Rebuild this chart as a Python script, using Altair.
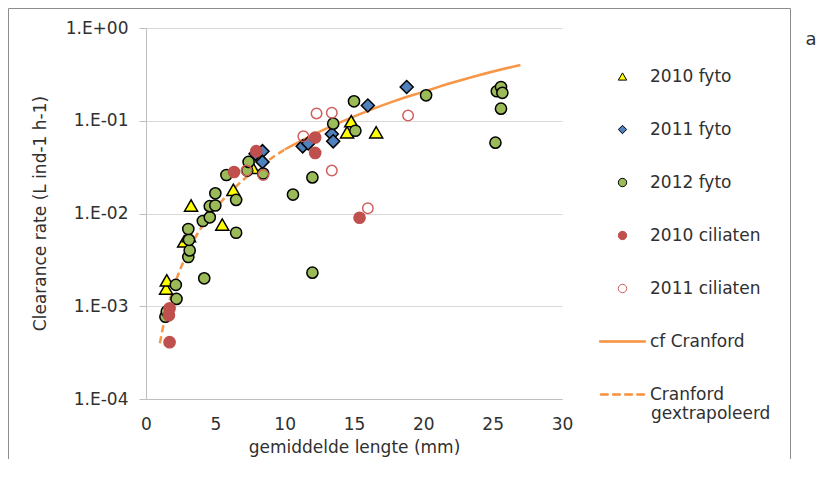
import altair as alt
import pandas as pd

series_names = ["2010 fyto", "2011 fyto", "2012 fyto", "2010 ciliaten",
                "2011 ciliaten", "cf Cranford", "Cranford gextrapoleerd"]

# gemiddelde lengte (mm) / clearance rate (L ind-1 h-1)
x_2010_fyto = [1.45, 1.5, 2.75, 3.1, 3.25, 5.5, 6.3, 7.7, 14.5, 14.8, 16.6]
y_2010_fyto = [0.00155, 0.0019, 0.0050, 0.0057, 0.0122, 0.0076, 0.018, 0.031, 0.075, 0.099, 0.075]

x_2011_fyto = [7.9, 8.4, 8.4, 11.3, 11.7, 13.4, 13.5, 16.0, 18.8]
y_2011_fyto = [0.044, 0.047, 0.036, 0.053, 0.057, 0.072, 0.060, 0.146, 0.231]

x_2012_fyto = [1.4, 1.5, 2.15, 2.2, 3.05, 3.15, 3.1, 3.05, 4.2, 4.1, 4.6, 4.6, 5.0, 5.0,
               5.8, 6.5, 6.5, 7.3, 7.4, 8.45, 10.6, 12.0, 12.0, 13.5, 15.0, 15.1, 20.2,
               25.2, 25.3, 25.6, 25.6, 25.7]
y_2012_fyto = [0.00077, 0.00088, 0.0017, 0.0012, 0.0034, 0.0040, 0.0052, 0.0068, 0.0020,
               0.0083, 0.0091, 0.0120, 0.0122, 0.0165, 0.026, 0.014, 0.0062, 0.029, 0.036,
               0.027, 0.016, 0.0245, 0.0023, 0.093, 0.162, 0.078, 0.188, 0.058, 0.208,
               0.135, 0.231, 0.20]

x_2010_cil = [1.65, 1.7, 1.7, 6.35, 7.95, 12.2, 12.2, 15.4]
y_2010_cil = [0.0008, 0.00095, 0.00041, 0.028, 0.047, 0.066, 0.045, 0.009]

x_2011_cil = [7.25, 8.45, 11.35, 12.3, 13.4, 13.4, 16.0, 18.9]
y_2011_cil = [0.029, 0.026, 0.068, 0.120, 0.122, 0.029, 0.0114, 0.114]

cran_x = [10, 12, 14, 16, 18, 20, 22, 24, 27]
cran_y = [0.049, 0.070, 0.096, 0.128, 0.165, 0.205, 0.255, 0.31, 0.40]

extra_x = [1.0, 1.4, 2, 3, 4, 5, 6, 7, 8, 9, 10]
extra_y = [0.0004, 0.00078, 0.0016, 0.0038, 0.0071, 0.0113, 0.0165, 0.023, 0.030, 0.039, 0.049]

x_ticks = [0, 5, 10, 15, 20, 25, 30]
y_ticks = [1e-4, 1e-3, 1e-2, 1e-1, 1]

rows = []
for name, xs, ys in [(series_names[0], x_2010_fyto, y_2010_fyto),
                     (series_names[1], x_2011_fyto, y_2011_fyto),
                     (series_names[2], x_2012_fyto, y_2012_fyto),
                     (series_names[3], x_2010_cil, y_2010_cil),
                     (series_names[4], x_2011_cil, y_2011_cil)]:
    rows += [{"series": name, "L": a, "CR": b} for a, b in zip(xs, ys)]
points = pd.DataFrame(rows)
solid = pd.DataFrame({"L": cran_x, "CR": cran_y})
dashed = pd.DataFrame({"L": extra_x, "CR": extra_y})

FONT = "DejaVu Sans"
TXT = "#303030"
ORANGE = "#f79646"

xscale = alt.Scale(domain=[0, 30], nice=False, zero=False)
yscale = alt.Scale(type="log", domain=[1e-4, 1], nice=False)

xaxis = alt.Axis(values=x_ticks, title="gemiddelde lengte (mm)", grid=False, tickSize=0,
                 labelPadding=17, titleY=40, titleBaseline="top", domainColor="#bfbfbf",
                 labelFlush=False, labelOverlap=False)
yaxis = alt.Axis(values=y_ticks, title="Clearance rate (L ind-1 h-1)",
                 labelExpr="datum.value >= 0.999 ? '1.E+00' : '1.E-0' + format(round(-log(datum.value)/LN10), 'd')",
                 tickSize=7, labelPadding=11, grid=True, gridColor="#d9d9d9",
                 domainColor="#bfbfbf", tickColor="#bfbfbf", labelFlush=False, labelOverlap=False,
                 titleX=-106, titleY=185, titleAngle=270, titleBaseline="middle", titleAlign="center")

line_path = "M-5.5,-0.18L5.5,-0.18L5.5,0.18L-5.5,0.18Z"
dash_path = ("M-5.3,-0.18L-3.4,-0.18L-3.4,0.18L-5.3,0.18Z"
             "M-2.4,-0.18L-0.5,-0.18L-0.5,0.18L-2.4,0.18Z"
             "M0.5,-0.18L2.4,-0.18L2.4,0.18L0.5,0.18Z"
             "M3.4,-0.18L5.3,-0.18L5.3,0.18L3.4,0.18Z")

shape_scale = alt.Scale(domain=series_names,
                        range=["triangle-up", "diamond", "circle", "circle", "circle", line_path, dash_path])
fill_scale = alt.Scale(domain=series_names,
                       range=["#ffff00", "#4f81bd", "#9bbb59", "#c0504d", "transparent", ORANGE, ORANGE])
stroke_scale = alt.Scale(domain=series_names,
                         range=["#000000", "#000000", "#000000", "#c0504d", "#d0605d", ORANGE, ORANGE])

legend = alt.Legend(title=None, orient="none", legendX=468, legendY=40, direction="vertical",
                    labelFont=FONT, labelFontSize=17, labelColor=TXT, symbolSize=70,
                    symbolStrokeWidth=1, rowPadding=35, labelOffset=19, padding=0, labelLimit=300,
                    labelExpr="datum.label == 'Cranford gextrapoleerd' ? 'Cranford' : datum.label")

base_x = alt.X("L:Q", scale=xscale, axis=xaxis)
base_y = alt.Y("CR:Q", scale=yscale, axis=yaxis)

line_solid = alt.Chart(solid).mark_line(color=ORANGE, strokeWidth=2.5, interpolate="monotone").encode(
    x=base_x, y=base_y)
line_dash = alt.Chart(dashed).mark_line(color=ORANGE, strokeWidth=2.5, strokeDash=[7, 4],
                                         interpolate="monotone").encode(x=base_x, y=base_y)

sizes = {"2010 fyto": 170, "2011 fyto": 170, "2012 fyto": 125, "2010 ciliaten": 125, "2011 ciliaten": 110}
point_layers = []
for name in series_names[:5]:
    point_layers.append(
        alt.Chart(points).transform_filter(alt.datum.series == name)
        .mark_point(filled=True, opacity=1, size=sizes[name], strokeWidth=1.5)
        .encode(x=base_x, y=base_y,
                shape=alt.Shape("series:N", scale=shape_scale, legend=legend),
                fill=alt.Fill("series:N", scale=fill_scale, legend=legend),
                stroke=alt.Stroke("series:N", scale=stroke_scale, legend=legend))
    )

one = pd.DataFrame({"t": ["a"]})
second_line = pd.DataFrame({"t": ["gextrapoleerd"]})
border_color = "#8c8c8c"
b_left = alt.Chart(one).mark_rule(color=border_color, strokeWidth=1).encode(
    x=alt.value(-137.5), y=alt.value(-19.5), y2=alt.value(431))
b_right = alt.Chart(one).mark_rule(color=border_color, strokeWidth=1).encode(
    x=alt.value(644.5), y=alt.value(-19.5), y2=alt.value(431))
b_top = alt.Chart(one).mark_rule(color=border_color, strokeWidth=1).encode(
    x=alt.value(-137.5), x2=alt.value(644.5), y=alt.value(-19.5))
label_a = alt.Chart(one).mark_text(font=FONT, fontSize=18, color=TXT, align="center",
                                   baseline="middle").encode(
    text="t:N", x=alt.value(665), y=alt.value(12))
legend_line2 = alt.Chart(second_line).mark_text(font=FONT, fontSize=17, color=TXT, align="left",
                                                baseline="middle").encode(
    text="t:N", x=alt.value(505), y=alt.value(386))

chart = alt.layer(line_dash, line_solid, *point_layers, b_left, b_right, b_top, label_a,
                  legend_line2).properties(
    width=416, height=371,
    padding={"left": 138, "top": 20, "right": 259, "bottom": 60},
    autosize=alt.AutoSizeParams(type="none"),
).configure_view(stroke=None).configure_axis(
    labelFont=FONT, labelFontSize=17, labelColor=TXT,
    titleFont=FONT, titleFontSize=17, titleFontWeight="normal", titleColor=TXT,
)

chart.save("out.html", embed_options={"renderer": "svg", "actions": False})
